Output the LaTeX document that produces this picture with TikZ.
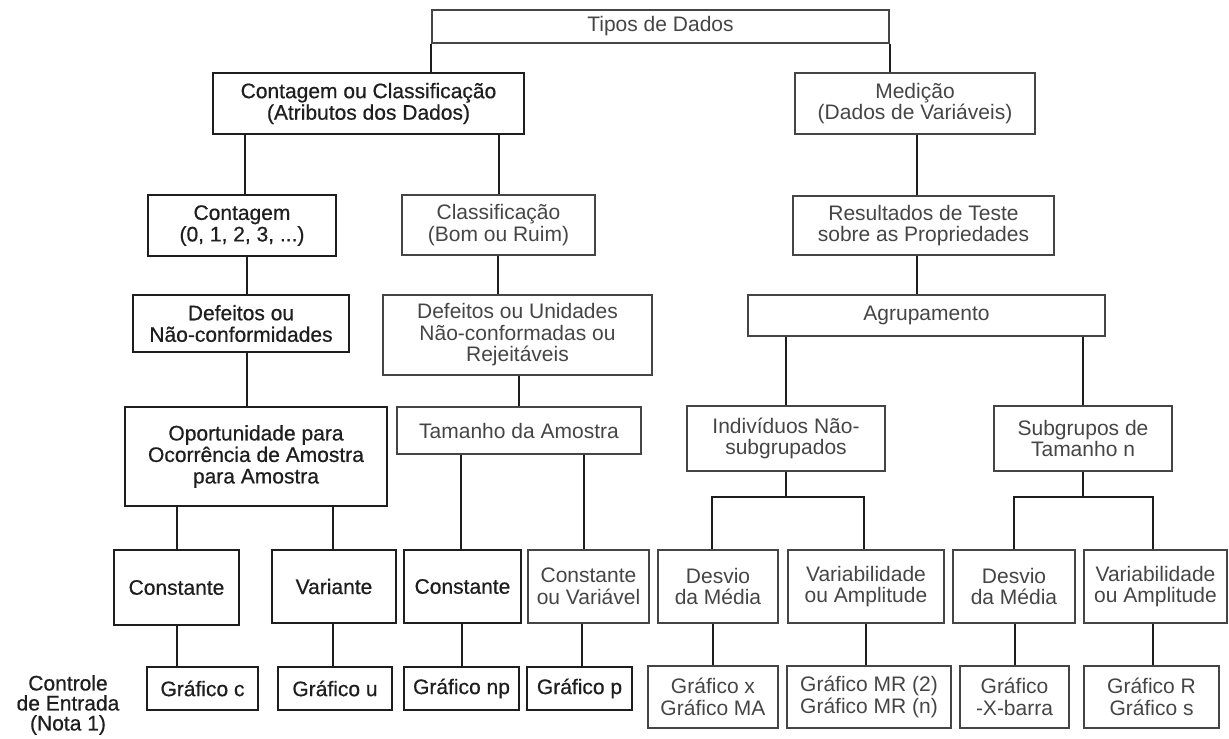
\documentclass[tikz,border=0pt]{standalone}
\usepackage{fontspec}
\setmainfont{Liberation Sans}
\newfontfamily\heavy{Liberation Sans}[FakeBold=0.6]
\definecolor{ink}{HTML}{1E1E1E}
\definecolor{soft}{HTML}{454545}
% box placed by its left, top, right and bottom edges
\newcommand\boxat[7]{\node[#1, minimum width={#5-#3}, minimum height={#6-#4}] (#2) at ({(#3+#5)/2},{(#4+#6)/2}) {#7};}
% vertical connector from the top of #2 (shifted by #3) up to the bottom of #1
\newcommand\vlink[3]{\path ([xshift=#3]#2.north) coordinate (lk); \draw[wire] (lk) -- (lk |- #1.south);}
\begin{document}
\begin{tikzpicture}[x=1pt,y=-1pt,
  every node/.style={font=\fontsize{21}{21.5}\selectfont},
  box/.style={draw=ink, line width=2pt, text=ink, align=center, inner sep=0pt, font=\fontsize{21}{21.5}\heavy},
  lbox/.style={draw=soft, line width=1.7pt, text=soft, align=center, inner sep=0pt},
  wire/.style={draw=ink, line width=2pt}]
\useasboundingbox (0,0) rectangle (1229,739);

% level 0 and 1
\boxat{lbox}{tipos}{432}{10}{889}{43}{Tipos de Dados}
\boxat{box}{cc}{213}{73}{524}{134}{Contagem ou Classificação\\(Atributos dos Dados)}
\boxat{lbox}{med}{795}{73}{1035}{134}{Medição\\(Dados de Variáveis)}

% level 2
\boxat{box}{cont}{148}{195}{336}{256}{Contagem\\(0, 1, 2, 3, ...)}
\boxat{lbox}{clas}{402}{195}{595}{255}{Classificação\\(Bom ou Ruim)}
\boxat{lbox}{res}{793}{196}{1054}{255}{Resultados de Teste\\sobre as Propriedades}

% level 3
\boxat{box}{def}{133}{295}{349}{352}{Defeitos ou\\Não-conformidades}
\boxat{lbox}{defu}{383}{295}{652}{375}{Defeitos ou Unidades\\Não-conformadas ou\\Rejeitáveis}
\boxat{lbox}{agr}{748}{295}{1105}{336}{Agrupamento}

% level 4
\boxat{box}{opo}{125}{407}{387}{506}{Oportunidade para\\Ocorrência de Amostra\\para Amostra}
\boxat{lbox}{tam}{397}{407}{641}{454}{Tamanho da Amostra}
\boxat{lbox}{ind}{687}{406}{885}{471}{Indivíduos Não-\\subgrupados}
\boxat{lbox}{sub}{994}{406}{1172}{471}{Subgrupos de\\Tamanho n}

% level 5
\boxat{box}{c1}{114}{550}{239}{625}{Constante}
\boxat{box}{var}{272}{550}{396}{623}{Variante}
\boxat{box}{c2}{404}{550}{521}{623}{Constante}
\boxat{lbox}{cv}{528}{550}{649}{623}{Constante\\ou Variável}
\boxat{lbox}{d1}{658}{550}{778}{623}{Desvio\\da Média}
\boxat{lbox}{v1}{788}{550}{944}{623}{Variabilidade\\ou Amplitude}
\boxat{lbox}{d2}{953}{550}{1075}{623}{Desvio\\da Média}
\boxat{lbox}{v2}{1084}{550}{1227}{623}{Variabilidade\\ou Amplitude}

% level 6: charts
\boxat{box}{gc}{147}{667}{258}{710}{Gráfico c}
\boxat{box}{gu}{278}{667}{392}{710}{Gráfico u}
\boxat{box}{gnp}{404}{667}{519}{710}{Gráfico np}
\boxat{box}{gp}{527}{667}{632}{710}{Gráfico p}
\boxat{lbox}{gx}{648}{666}{778}{728}{Gráfico x\\Gráfico MA}
\boxat{lbox}{gmr}{787}{666}{951}{728}{Gráfico MR (2)\\Gráfico MR (n)}
\boxat{lbox}{gxb}{960}{666}{1069}{728}{Gráfico\\-X-barra}
\boxat{lbox}{gr}{1084}{666}{1219}{728}{Gráfico R\\Gráfico s}

\node[text=ink, align=center, inner sep=0pt, font=\fontsize{21}{20}\heavy] (nota) at (68,705) {Controle\\de Entrada\\(Nota 1)};

% connectors
\draw[wire] (tipos.south west) -- (tipos.south west |- cc.north);
\draw[wire] (tipos.south east) -- (tipos.south east |- med.north);
\vlink{cc}{cont}{3pt}
\vlink{cc}{clas}{0pt}
\vlink{med}{res}{-6.5pt}
\vlink{cont}{def}{6pt}
\vlink{clas}{defu}{-19.5pt}
\vlink{res}{agr}{-9.5pt}
\vlink{def}{opo}{-9pt}
\vlink{defu}{tam}{0pt}
\vlink{agr}{ind}{0pt}
\vlink{agr}{sub}{0pt}
\vlink{opo}{c1}{0pt}
\vlink{opo}{var}{-1.5pt}
\vlink{tam}{c2}{-1.5pt}
\vlink{tam}{cv}{-4.5pt}
\vlink{c1}{gc}{-25.5pt}
\vlink{var}{gu}{-2pt}
\vlink{c2}{gnp}{0pt}
\vlink{cv}{gp}{2.5pt}
\vlink{d1}{gx}{0pt}
\vlink{v1}{gmr}{-3pt}
\vlink{d2}{gxb}{0pt}
\vlink{v2}{gr}{1.5pt}

% forks below the grouping boxes
\coordinate (fi) at (786,497);
\coordinate (fs) at (1083,497);
\draw[wire] (ind.south) -- (fi);
\draw[wire] ([xshift=-6pt]d1.north) |- (fi) -| ([xshift=-2pt]v1.north);
\draw[wire] (sub.south) -- (fs);
\draw[wire] (d2.north) |- (fs) -| ([xshift=-3pt]v2.north);
\end{tikzpicture}
\end{document}
